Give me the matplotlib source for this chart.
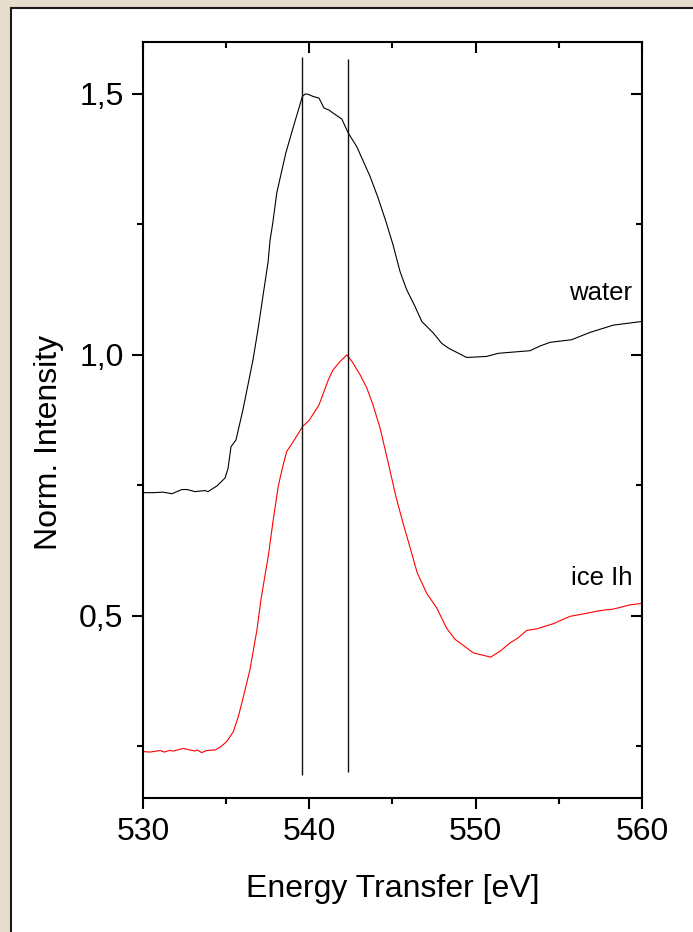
import matplotlib.pyplot as plt
from matplotlib.patches import Rectangle
from matplotlib.lines import Line2D
from matplotlib.ticker import MultipleLocator, FuncFormatter

plt.rcParams['font.family'] = ['Liberation Sans', 'DejaVu Sans']

# water spectrum (black)
water_e = [530.00, 530.60, 531.20, 531.74, 532.34, 532.66, 533.13, 533.73, 533.91,
           534.45, 534.93, 535.11, 535.29, 535.59, 536.01, 536.37, 536.61, 536.91,
           537.27, 537.52, 537.64, 537.80, 538.04, 538.58, 539.04, 539.34, 539.58,
           539.76, 539.94, 540.24, 540.58, 540.88, 541.18, 541.44, 541.95, 542.34,
           542.85, 543.65, 544.13, 544.61, 545.03, 545.45, 545.85, 546.35, 546.76,
           547.45, 547.96, 548.36, 549.46, 550.66, 551.36, 553.27, 553.87, 554.47,
           555.77, 556.87, 558.28, 560.00]
water_i = [0.736, 0.736, 0.737, 0.734, 0.742, 0.742, 0.738, 0.740, 0.738,
           0.749, 0.764, 0.782, 0.824, 0.837, 0.895, 0.952, 0.990, 1.048,
           1.125, 1.178, 1.220, 1.252, 1.310, 1.386, 1.437, 1.469, 1.495,
           1.500, 1.499, 1.495, 1.492, 1.473, 1.469, 1.463, 1.452, 1.425,
           1.399, 1.342, 1.301, 1.255, 1.211, 1.160, 1.125, 1.093, 1.064,
           1.042, 1.022, 1.013, 0.995, 0.997, 1.003, 1.008, 1.017, 1.024,
           1.029, 1.043, 1.057, 1.064]

# ice Ih spectrum (red)
ice_e = [530.00, 530.42, 531.02, 531.28, 531.58, 531.82, 532.42, 532.83, 533.13,
         533.26, 533.53, 533.83, 534.33, 534.63, 535.03, 535.43, 535.73, 535.99,
         536.43, 536.85, 537.09, 537.29, 537.53, 537.83, 538.13, 538.40, 538.64,
         539.04, 539.60, 540.00, 540.58, 541.14, 541.42, 541.84, 542.26, 542.57,
         543.05, 543.45, 543.83, 544.25, 544.73, 545.21, 545.63, 546.01, 546.49,
         547.06, 547.66, 548.26, 548.76, 549.86, 550.90, 551.46, 552.06, 552.56,
         553.07, 553.67, 554.67, 555.67, 556.68, 557.48, 558.28, 559.28, 560.00]
ice_i = [0.240, 0.239, 0.242, 0.239, 0.242, 0.241, 0.246, 0.243, 0.241,
         0.243, 0.238, 0.242, 0.243, 0.248, 0.259, 0.278, 0.307, 0.339,
         0.397, 0.473, 0.531, 0.569, 0.614, 0.684, 0.748, 0.786, 0.815,
         0.834, 0.863, 0.875, 0.904, 0.952, 0.971, 0.987, 1.000, 0.987,
         0.962, 0.937, 0.904, 0.860, 0.795, 0.728, 0.678, 0.636, 0.582,
         0.543, 0.515, 0.476, 0.455, 0.429, 0.421, 0.432, 0.448, 0.458,
         0.472, 0.475, 0.485, 0.499, 0.505, 0.510, 0.513, 0.521, 0.524]

# marker lines
mark_e = [539.58, 542.31]
mark_lo = [0.195, 0.201]
mark_hi = [1.570, 1.566]

fig = plt.figure(figsize=(6.93, 9.32), dpi=100)
fig.patch.set_facecolor('#e6ddcd')
fig.patches.append(Rectangle((12 / 693, 0), 1, 1 - 9 / 932, transform=fig.transFigure,
                             facecolor='white', edgecolor='none', zorder=-5))
fig.add_artist(Line2D([11 / 693, 11 / 693], [0, 1 - 8 / 932], color='#1a1a1a', lw=1.5))
fig.add_artist(Line2D([11 / 693, 1], [1 - 8 / 932, 1 - 8 / 932], color='#1a1a1a', lw=1.5))

ax = fig.add_axes([143 / 693, 1 - 798 / 932, (642 - 143) / 693, (798 - 41.7) / 932])
ax.set_facecolor('white')

ax.plot(water_e, water_i, color='black', lw=0.8)
ax.plot(ice_e, ice_i, color='red', lw=0.8)
ax.vlines(mark_e, mark_lo, mark_hi, color='#111111', lw=1.0)

ax.text(559.4, 1.105, 'water', ha='right', va='baseline', fontsize=18.5)
ax.text(559.4, 0.559, 'ice Ih', ha='right', va='baseline', fontsize=18.5)

ax.set_xlim(530, 560)
ax.set_ylim(0.151, 1.60)
ax.xaxis.set_major_locator(MultipleLocator(10))
ax.xaxis.set_minor_locator(MultipleLocator(5))
ax.yaxis.set_major_locator(MultipleLocator(0.5))
ax.yaxis.set_minor_locator(MultipleLocator(0.25))
ax.yaxis.set_major_formatter(FuncFormatter(lambda v, p: f'{v:.1f}'.replace('.', ',')))

for s in ax.spines.values():
    s.set_linewidth(1.5)
ax.tick_params(which='both', direction='out', width=1.5, labelsize=23,
               top=True, right=True, pad=6)
ax.tick_params(which='major', length=8)
ax.tick_params(which='minor', length=4.5)
# top and right ticks point inward
for t in ax.xaxis.get_major_ticks() + ax.xaxis.get_minor_ticks():
    t.tick2line.set_marker(3)
for t in ax.yaxis.get_major_ticks() + ax.yaxis.get_minor_ticks():
    t.tick2line.set_marker(0)

fig.text(392.5 / 693, 1 - 897 / 932, 'Energy Transfer [eV]', ha='center', va='baseline',
         fontsize=23)
fig.text(57 / 693, 1 - 442 / 932, 'Norm. Intensity', ha='center', va='baseline',
         rotation=90, rotation_mode='anchor', fontsize=23)

fig.savefig('out.png', dpi=100, facecolor=fig.get_facecolor())
